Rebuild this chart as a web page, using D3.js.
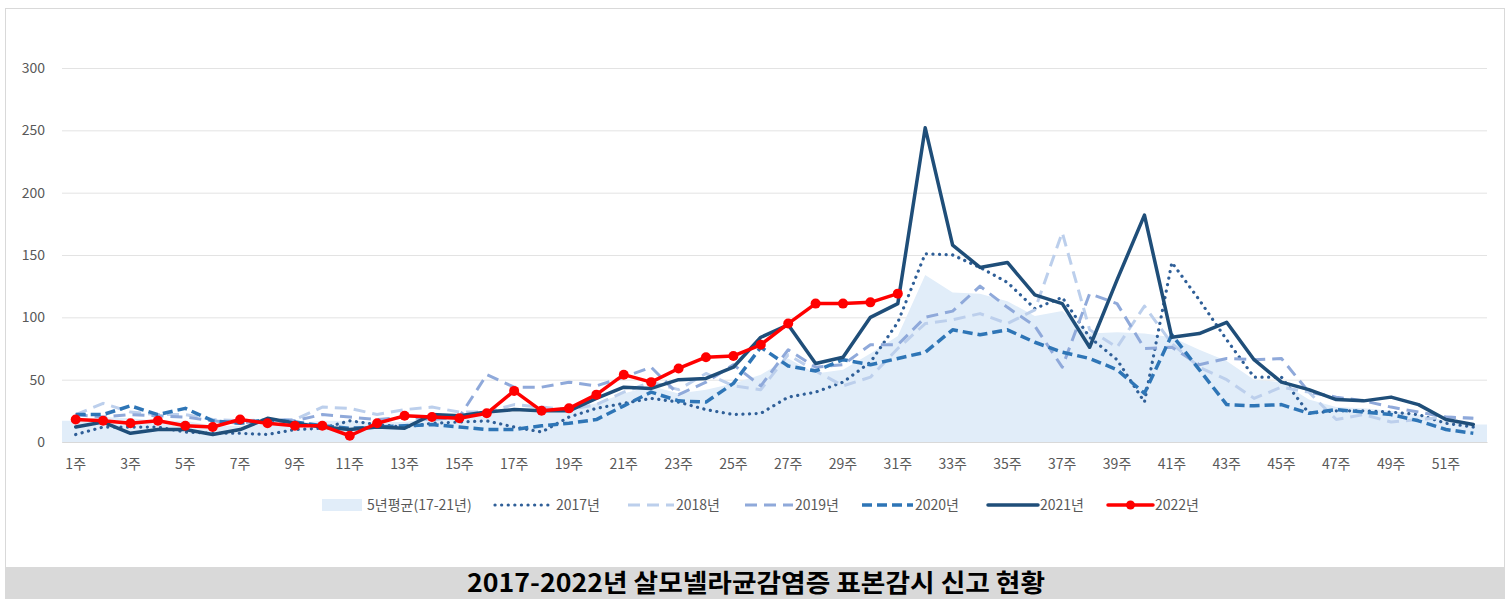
<!DOCTYPE html>
<html>
<head>
<meta charset="utf-8">
<script src="https://cdn.jsdelivr.net/npm/d3@7"></script>
<style>
  body { margin: 0; background: #fff; }
  text { font-family: "Noto Sans CJK KR", "Noto Sans", sans-serif; }
</style>
</head>
<body>
<script>
var weeks = [1,2,3,4,5,6,7,8,9,10,11,12,13,14,15,16,17,18,19,20,21,22,23,24,25,26,
  27,28,29,30,31,32,33,34,35,36,37,38,39,40,41,42,43,44,45,46,47,48,49,50,51,52];
var yTicks = [0, 50, 100, 150, 200, 250, 300];

var avg5 = [17,20,19,17,17,13,13,16,15,17,17,16,16,19,19,26,24,24,27,31,39,45,39,42,47,54,
  67,55,58,71,85,134,120,119,113,101,105,87,88,87,84,74,65,50,48,34,28,27,25,22,17,14];
var y2017 = [6,12,12,12,8,7,7,6,10,11,17,14,12,15,16,17,12,8,20,27,31,35,32,26,22,23,
  36,40,48,64,96,151,150,140,128,107,116,84,66,32,144,114,82,52,52,23,25,25,24,22,15,12];
var y2018 = [22,31,24,22,22,18,17,18,18,28,27,22,26,28,24,24,30,28,26,30,40,48,42,55,45,42,
  70,57,45,52,75,95,98,103,95,106,168,90,76,109,79,60,50,35,44,40,18,22,16,18,20,19];
var y2019 = [22,20,22,21,20,17,15,18,17,22,20,18,20,18,20,54,44,44,48,45,52,60,38,48,62,45,
  74,60,62,78,78,100,105,125,108,93,60,119,111,75,76,62,67,66,67,40,36,33,28,24,20,19];
var y2020 = [22,22,29,22,27,17,15,18,16,13,11,12,13,14,12,10,10,13,15,18,29,40,33,32,47,76,
  61,57,66,62,67,72,90,86,90,80,72,67,58,39,86,58,30,29,30,23,26,24,22,17,10,7];
var y2021 = [12,16,7,10,10,6,10,19,15,12,10,12,11,22,21,24,26,25,25,35,44,43,50,51,60,84,
  94,63,68,100,111,252,158,140,144,118,111,76,130,182,84,87,96,66,48,42,34,33,36,30,18,14];
var y2022 = [18,17,15,17,13,12,18,15,13,13,5,15,21,20,19,23,41,25,27,38,54,48,59,68,69,78,
  95,111,111,112,119];

var W = 1509, H = 599;
var plot = { left: 62, right: 1487, top: 68, bottom: 442 };
var areaColor = '#e1edf9';

var series = [
  { name: '2017년', values: y2017, color: '#2f5f98', width: 3.2, dash: '0.1,6.5', cap: 'round' },
  { name: '2018년', values: y2018, color: '#bccfec', width: 3, dash: '12,7', cap: 'butt' },
  { name: '2019년', values: y2019, color: '#8fa9da', width: 3, dash: '12,7', cap: 'butt' },
  { name: '2020년', values: y2020, color: '#2e75b6', width: 3.5, dash: '10,5', cap: 'butt' },
  { name: '2021년', values: y2021, color: '#1f4e79', width: 3.5, dash: null, cap: 'round' },
  { name: '2022년', values: y2022, color: '#ff0000', width: 3.5, dash: null, cap: 'round', marker: true }
];

var svg = d3.select('body').append('svg')
  .attr('width', W)
  .attr('height', H);

svg.append('rect')
  .attr('x', 5.5).attr('y', 8.5)
  .attr('width', 1499).attr('height', 590)
  .attr('fill', '#fff')
  .attr('stroke', '#d9d9d9');

var x = d3.scaleBand()
  .domain(weeks)
  .range([plot.left, plot.right]);
var cx = function(w) { return x(w) + x.bandwidth() / 2; };

var y = d3.scaleLinear()
  .domain([0, 300])
  .range([plot.bottom, plot.top]);

// gridlines + y labels
var yAxis = svg.append('g')
  .attr('transform', 'translate(' + plot.left + ',0)')
  .call(d3.axisLeft(y).tickValues(yTicks).tickSize(-(plot.right - plot.left)).tickPadding(17));
yAxis.select('.domain').remove();
yAxis.selectAll('.tick line').attr('stroke', '#e3e3e3').attr('stroke-width', 1);
yAxis.selectAll('.tick text')
  .attr('fill', '#595959')
  .style('font-size', '14px');

// 5-year average area, spanning the full plot width
var areaPts = [[plot.left, avg5[0]]]
  .concat(weeks.map(function(w, i) { return [cx(w), avg5[i]]; }))
  .concat([[plot.right, avg5[avg5.length - 1]]]);

svg.append('path')
  .datum(areaPts)
  .attr('fill', areaColor)
  .attr('d', d3.area()
    .x(function(d) { return d[0]; })
    .y0(y(0))
    .y1(function(d) { return y(d[1]); }));

// x axis
var xAxis = svg.append('g')
  .attr('transform', 'translate(0,' + plot.bottom + ')')
  .call(d3.axisBottom(x)
    .tickValues(weeks.filter(function(w) { return w % 2 === 1; }))
    .tickFormat(function(w) { return w + '주'; })
    .tickSize(0)
    .tickPadding(17));
xAxis.select('.domain').attr('stroke', '#d9d9d9');
xAxis.selectAll('.tick text')
  .attr('fill', '#595959')
  .style('font-size', '14px');

var line = d3.line()
  .x(function(d, i) { return cx(weeks[i]); })
  .y(function(d) { return y(d); });

series.forEach(function(s) {
  svg.append('path')
    .datum(s.values)
    .attr('fill', 'none')
    .attr('stroke', s.color)
    .attr('stroke-width', s.width)
    .attr('stroke-linecap', s.cap)
    .attr('stroke-linejoin', 'round')
    .attr('stroke-dasharray', s.dash)
    .attr('d', line);

  if (s.marker) {
    svg.append('g').selectAll('circle')
      .data(s.values)
      .enter().append('circle')
        .attr('cx', function(d, i) { return cx(weeks[i]); })
        .attr('cy', function(d) { return y(d); })
        .attr('r', 5)
        .attr('fill', s.color);
  }
});

// legend
var legendY = 505;
var legendItems = [{ name: '5년평균(17-21년)', area: true }].concat(series);
var legendX = [322, 495, 628, 745, 862, 988, 1108];
var legendTextX = [367, 556, 676, 795, 915, 1040, 1155];

var lg = svg.append('g').attr('class', 'legend');
legendItems.forEach(function(s, i) {
  if (s.area) {
    lg.append('rect')
      .attr('x', legendX[i]).attr('y', legendY - 6)
      .attr('width', legendTextX[i] - legendX[i] - 5).attr('height', 12)
      .attr('fill', areaColor);
  } else {
    lg.append('line')
      .attr('x1', legendX[i]).attr('x2', legendTextX[i] - 2)
      .attr('y1', legendY).attr('y2', legendY)
      .attr('stroke', s.color)
      .attr('stroke-width', s.width)
      .attr('stroke-linecap', s.cap)
      .attr('stroke-dasharray', s.dash);
    if (s.marker) {
      lg.append('circle')
        .attr('cx', (legendX[i] + legendTextX[i] - 2) / 2)
        .attr('cy', legendY)
        .attr('r', 4.5)
        .attr('fill', s.color);
    }
  }
  lg.append('text')
    .attr('x', legendTextX[i])
    .attr('y', legendY)
    .attr('dy', '0.35em')
    .attr('fill', '#595959')
    .style('font-size', '14px')
    .text(s.name);
});

// title band
svg.append('rect')
  .attr('x', 5).attr('y', 567)
  .attr('width', 1500).attr('height', 32)
  .attr('fill', '#d9d9d9');

svg.append('text')
  .attr('x', 756)
  .attr('y', 592)
  .attr('text-anchor', 'middle')
  .attr('textLength', 578)
  .attr('lengthAdjust', 'spacingAndGlyphs')
  .attr('fill', '#000')
  .style('font-size', '25px')
  .style('font-weight', 'bold')
  .text('2017-2022년 살모넬라균감염증 표본감시 신고 현황');
</script>
</body>
</html>
